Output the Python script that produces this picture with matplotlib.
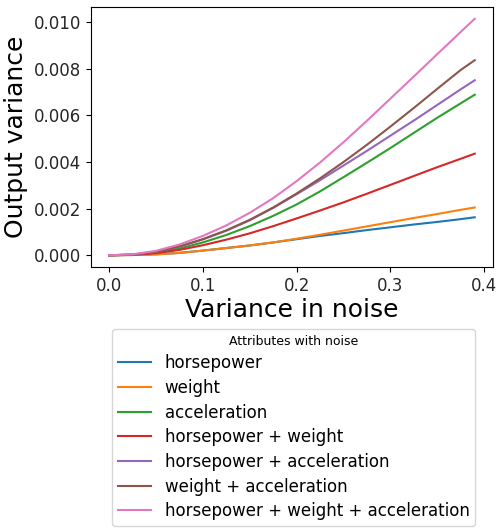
import matplotlib
matplotlib.use("Agg")
import matplotlib.pyplot as plt

# variance in noise (x)
noise_var = [0.0, 0.025, 0.05, 0.075, 0.1, 0.125, 0.15, 0.175, 0.2,
             0.225, 0.25, 0.275, 0.3, 0.325, 0.35, 0.375, 0.39]

horsepower = [0, 0.00001, 0.00004, 0.00010, 0.00020, 0.00031, 0.00042, 0.00055, 0.00069,
              0.00083, 0.00095, 0.00108, 0.00120, 0.00132, 0.00143, 0.00155, 0.00163]
weight = [0, 0.00001, 0.00004, 0.00010, 0.00020, 0.00031, 0.00042, 0.00055, 0.00071,
          0.00088, 0.00106, 0.00124, 0.00142, 0.00160, 0.00177, 0.00195, 0.00205]
acceleration = [0, 0.00002, 0.00011, 0.00029, 0.00055, 0.00087, 0.00125, 0.00169, 0.00218,
                0.00274, 0.00335, 0.00397, 0.00460, 0.00525, 0.00590, 0.00652, 0.00689]
hp_weight = [0, 0.00002, 0.00009, 0.00023, 0.00043, 0.00067, 0.00094, 0.00125, 0.00158,
             0.00192, 0.00227, 0.00264, 0.00302, 0.00340, 0.00378, 0.00414, 0.00436]
hp_accel = [0, 0.00003, 0.00015, 0.00037, 0.00068, 0.00105, 0.00150, 0.00203, 0.00262,
            0.00322, 0.00385, 0.00448, 0.00513, 0.00578, 0.00645, 0.00712, 0.00751]
weight_accel = [0, 0.00003, 0.00015, 0.00038, 0.00069, 0.00107, 0.00152, 0.00205, 0.00265,
                0.00330, 0.00400, 0.00474, 0.00552, 0.00632, 0.00714, 0.00795, 0.00837]
all_three = [0, 0.00004, 0.00019, 0.00046, 0.00083, 0.00128, 0.00182, 0.00245, 0.00318,
             0.00398, 0.00485, 0.00577, 0.00672, 0.00767, 0.00863, 0.00958, 0.01015]

labels = ['horsepower', 'weight', 'acceleration', 'horsepower + weight',
          'horsepower + acceleration', 'weight + acceleration',
          'horsepower + weight + acceleration']
series = [horsepower, weight, acceleration, hp_weight, hp_accel, weight_accel, all_three]

fig = plt.figure(figsize=(4.96, 5.31), dpi=100)
ax = fig.add_axes([0.183, 0.497, 0.811, 0.490])

for ys, lab in zip(series, labels):
    ax.plot(noise_var, ys, label=lab, linewidth=1.5)

ax.set_xticks([0.0, 0.1, 0.2, 0.3, 0.4])
ax.set_yticks([0.0, 0.002, 0.004, 0.006, 0.008, 0.010])
ax.set_yticklabels(['0.000', '0.002', '0.004', '0.006', '0.008', '0.010'])
ax.tick_params(labelsize=12, labelcolor='#262626')
ax.set_xlabel('Variance in noise', fontsize=18, labelpad=2)
ax.set_ylabel('Output variance', fontsize=18, labelpad=4)

ax.legend(title='Attributes with noise', fontsize=12, title_fontsize=9,
          loc='upper center', bbox_to_anchor=(0.592, 0.381),
          bbox_transform=fig.transFigure, borderaxespad=0,
          labelspacing=0.4, borderpad=0.35)

fig.savefig('out.png', dpi=100)
